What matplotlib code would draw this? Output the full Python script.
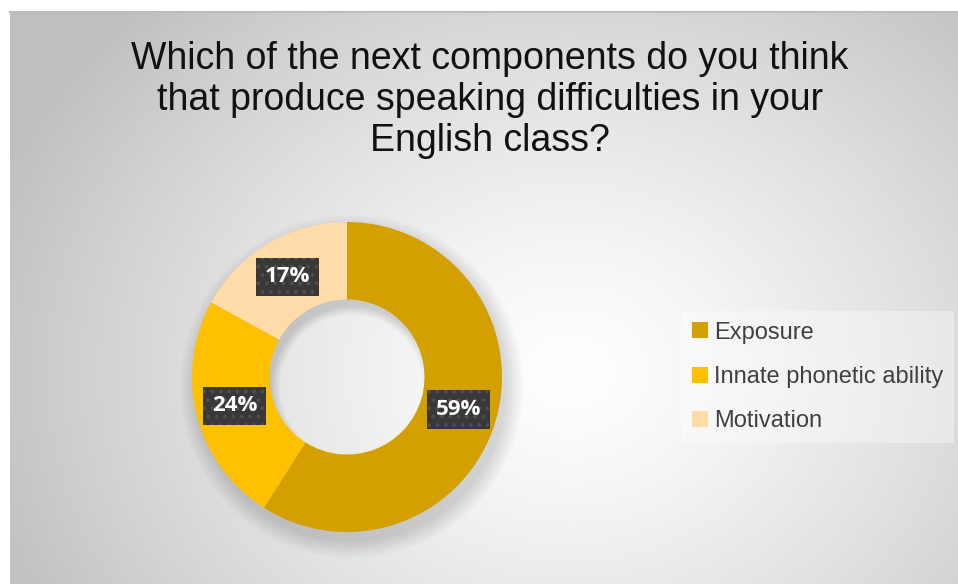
import numpy as np
import matplotlib.pyplot as plt

plt.rcParams['font.family'] = ['Liberation Sans', 'DejaVu Sans']
plt.rcParams['hatch.linewidth'] = 1.5

categories = ['Exposure', 'Innate phonetic ability', 'Motivation']
shares = [59, 24, 17]
colors = ['#D4A000', '#FFC000', '#FFDCA8']
title = 'Which of the next components do you think\nthat produce speaking difficulties in your\nEnglish class?'

W, H = 958, 584
fig = plt.figure(figsize=(W / 100, H / 100), dpi=100)

# radial grey background panel
bg = fig.add_axes([10 / W, 0, 1 - 10 / W, 1 - 12 / H])
yy, xx = np.mgrid[0:572, 0:948]
cx, cy = 560, 360
d = np.sqrt(((xx - cx) / 620.0) ** 2 + ((yy - cy) / 520.0) ** 2)
shade = 1.0 - 0.25 * np.clip(d, 0, 1) ** 1.3
bg.imshow(np.dstack([shade] * 3), aspect='auto', extent=[0, 948, 572, 0])
bg.set_axis_off()
fig.add_artist(plt.Line2D([10 / W, 1], [1 - 12 / H, 1 - 12 / H], color='#bdbdbd', lw=1.5))

fig.text(490 / W, 1 - 100 / H, title, ha='center', va='center', fontsize=27,
         color='#111111', linespacing=1.17)

# donut, centre (347, 377) px, outer radius 155 px
R = 155
half = 175
ax = fig.add_axes([(347 - half) / W, (H - 377 - half) / H, 2 * half / W, 2 * half / H])

# soft shadow underneath the ring
for i in range(12):
    s = 1 + 0.010 * i
    ax.pie([1], radius=s, center=(0.03, -0.06), colors=['#000000'],
           wedgeprops=dict(width=0.5 * s + 0.04, alpha=0.011, linewidth=0))

wedges, _, autotexts = ax.pie(
    shares, colors=colors, startangle=90, counterclock=False, radius=1,
    wedgeprops=dict(width=0.5, linewidth=0),
    autopct=lambda p: '%d%%' % round(p), pctdistance=0.75)

lim = half / R
ax.set_xlim(-lim, lim)
ax.set_ylim(-lim, lim)
ax.set_axis_off()

for t in autotexts:
    t.set_color('white')
    t.set_fontsize(16)
    t.set_fontweight('bold')
    t.set_family(['Open Sans', 'DejaVu Sans'])
    t.set_bbox(dict(boxstyle='square,pad=0.4', facecolor='#383838',
                    edgecolor='#4e4e4e', hatch='..', linewidth=0))

leg = fig.legend(wedges, categories, loc='center left',
                 bbox_to_anchor=(670 / W, 1 - 377 / H), fontsize=17,
                 frameon=True, fancybox=False, handlelength=0.65, handleheight=0.65,
                 handletextpad=0.25, labelspacing=0.95, borderpad=0.45)
leg.get_frame().set_facecolor('#ffffff')
leg.get_frame().set_alpha(0.35)
leg.get_frame().set_linewidth(0)
for t in leg.get_texts():
    t.set_color('#404040')

fig.savefig('out.png', dpi=100)
